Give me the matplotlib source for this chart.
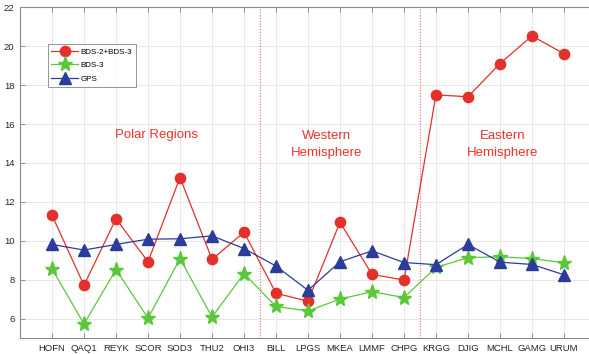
import matplotlib
matplotlib.use("Agg")
import matplotlib.pyplot as plt
import numpy as np

plt.rcParams['font.family'] = ['Liberation Sans', 'DejaVu Sans']

stations = ["HOFN", "QAQ1", "REYK", "SCOR", "SOD3", "THU2", "OHI3", "BILL", "LPGS",
            "MKEA", "LMMF", "CHPG", "KRGG", "DJIG", "MCHL", "GAMG", "URUM"]
bds23 = [11.31, 7.71, 11.13, 8.92, 13.25, 9.04, 10.44, 7.30, 6.89,
         10.95, 8.27, 7.98, 17.50, 17.40, 19.11, 20.53, 19.61]
bds3 = [8.56, 5.72, 8.52, 6.02, 9.08, 6.08, 8.31, 6.62, 6.39,
        7.00, 7.38, 7.08, 8.63, 9.13, 9.18, 9.08, 8.87]
gps = [9.81, 9.52, 9.81, 10.08, 10.10, 10.25, 9.60, 8.70, 7.45,
       8.92, 9.48, 8.88, 8.77, 9.81, 8.90, 8.78, 8.25]
region_labels = ["Polar Regions", "Western\nHemisphere", "Eastern\nHemisphere"]
region_x = [4.28, 9.58, 15.08]
region_y = [15.45, 14.95, 14.95]
dividers = [7.5, 12.5]

red = "#e2302a"
green = "#5ac83a"
blue = "#2b3c9c"

fig = plt.figure(figsize=(5.89, 3.54), dpi=100)
ax = fig.add_axes([20/589, 16/354, 576/589, 330.7/354])

x = np.arange(1, len(stations) + 1)
ax.plot(x, bds23, '-o', color=red, lw=0.9, ms=7.4, mec=red, mfc=red, label="BDS-2+BDS-3", zorder=3)
ax.plot(x, bds3, '-*', color=green, lw=0.9, ms=11, mec=green, mfc=green, label="BDS-3", zorder=3)
ax.plot(x, gps, '-^', color=blue, lw=0.9, ms=8, mec=blue, mfc=blue, label="GPS", zorder=3)

for d in dividers:
    ax.axvline(d, color="#e86a6a", lw=0.8, ls=(0, (1, 1.5)), zorder=2)

for t, xx, yy in zip(region_labels, region_x, region_y):
    ax.text(xx, yy, t, color="#e8332c", fontsize=9.5, ha='center', va='center', linespacing=1.5)

ax.set_xlim(0, 18)
ax.set_ylim(5, 22)
ax.set_xticks(x)
ax.set_xticklabels(stations)
ax.set_yticks(np.arange(6, 23, 2))
ax.grid(True, color="#e4e4e4", lw=0.6, zorder=0)
ax.set_axisbelow(True)
ax.tick_params(axis='both', direction='in', length=3.5, width=0.6, color="#808080",
               labelsize=6.8, labelcolor="#262626", top=True, right=False, pad=4)
for s in ['left', 'bottom', 'top']:
    ax.spines[s].set_color("#8a8a8a")
    ax.spines[s].set_linewidth(0.8)
ax.spines['right'].set_visible(False)

leg = ax.legend(loc='upper left', bbox_to_anchor=(0.048, 0.888), borderaxespad=0,
                fontsize=5.8, frameon=True, fancybox=False, edgecolor="#7a7a7a",
                handlelength=3.3, handletextpad=0.3, borderpad=0.45, labelspacing=0.75)
leg.get_frame().set_linewidth(0.7)

fig.savefig("out.png", dpi=100)
